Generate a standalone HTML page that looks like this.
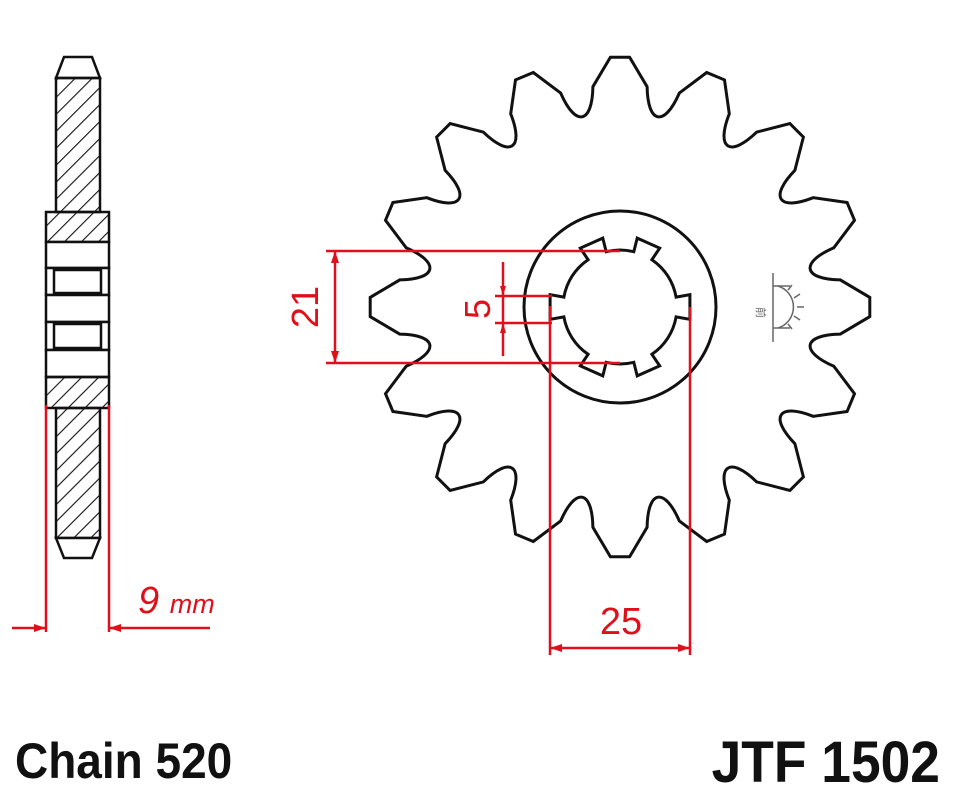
<!DOCTYPE html>
<html><head><meta charset="utf-8"><style>
html,body{margin:0;padding:0;background:#fff;width:958px;height:800px;overflow:hidden}
svg{display:block}
.t{font-family:"Liberation Sans",Arial,sans-serif;font-weight:bold;fill:#111}
.r{font-family:"Liberation Sans",Arial,sans-serif;fill:#e0101a}
</style></head><body>
<svg id="s" width="958" height="800" viewBox="0 0 958 800" xmlns="http://www.w3.org/2000/svg">
<defs>
<pattern id="h" width="12" height="12" patternUnits="userSpaceOnUse" patternTransform="rotate(45)">
<line x1="0" y1="0" x2="0" y2="12" stroke="#111" stroke-width="2.2"/>
</pattern>
</defs>
<g stroke="#111" stroke-width="2.5" fill="none">
<path d="M56 78 L64 57 L92 57 L100 78 Z" fill="#fff"/>
<rect x="56" y="78" width="44" height="134" fill="url(#h)"/>
<rect x="46" y="212" width="63" height="30" fill="url(#h)"/>
<rect x="46" y="242" width="63" height="26" fill="#fff"/>
<rect x="46" y="268" width="63" height="27" fill="#fff"/>
<rect x="54" y="270" width="47" height="23" fill="#fff"/>
<rect x="46" y="295" width="63" height="27" fill="#fff"/>
<rect x="46" y="322" width="63" height="28" fill="#fff"/>
<rect x="54" y="324" width="47" height="24" fill="#fff"/>
<rect x="46" y="350" width="63" height="27" fill="#fff"/>
<rect x="46" y="377" width="63" height="31" fill="url(#h)"/>
<rect x="56" y="408" width="44" height="130" fill="url(#h)"/>
<path d="M56 538 L64 558 L92 558 L100 538 Z" fill="#fff"/>
</g>
<g stroke="#e0101a" stroke-width="2.5" fill="none">
<line x1="46" y1="405" x2="46" y2="632"/>
<line x1="109" y1="405" x2="109" y2="632"/>
<line x1="12" y1="628" x2="46" y2="628"/>
<line x1="109" y1="628" x2="210" y2="628"/>
</g>
<path d="M46 628 l-12 -4 v8 z M109 628 l12 -4 v8 z" fill="#e0101a"/>
<text class="r" x="138" y="613" font-size="38" font-style="italic">9 <tspan font-size="27">mm</tspan></text>

<path id="sp" fill="none" stroke="#111" stroke-width="3"/>
<circle cx="620" cy="307" r="96" fill="none" stroke="#111" stroke-width="3"/>
<path id="sl" fill="none" stroke="#111" stroke-width="3"/>

<g stroke="#666" stroke-width="1.5" fill="none">
<line x1="773" y1="273" x2="773" y2="342"/>
<line x1="773" y1="286" x2="790" y2="286"/>
<line x1="773" y1="328" x2="790" y2="328"/>
<path d="M778 286 A22 22 0 0 1 778 328"/>
<path d="M788 290 l4 -5 M794 298 l6 -4 M797 307 h7 M794 316 l6 4 M788 324 l4 5"/>
<text x="760" y="310" font-size="11" fill="#666" stroke="none" font-family="Liberation Sans,Noto Sans CJK SC,sans-serif" transform="rotate(90 760 307)">前</text>
</g>

<g stroke="#e0101a" stroke-width="2.5" fill="none">
<line x1="326" y1="251" x2="620" y2="251"/>
<line x1="326" y1="363" x2="620" y2="363"/>
<line x1="335" y1="251" x2="335" y2="363"/>
<line x1="495" y1="296" x2="552" y2="296"/>
<line x1="495" y1="323" x2="552" y2="323"/>
<line x1="503" y1="262" x2="503" y2="356"/>
<line x1="550" y1="306" x2="550" y2="655"/>
<line x1="690" y1="307" x2="690" y2="655"/>
<line x1="550" y1="648" x2="690" y2="648"/>
</g>
<path d="M335 251 l-4 12 h8 z M335 363 l-4 -12 h8 z M503 296 l-3 -10 h6 z M503 323 l-3 10 h6 z M550 648 l12 -4 v8 z M690 648 l-12 -4 v8 z" fill="#e0101a"/>
<text class="r" font-size="38" transform="translate(318 307) rotate(-90)" text-anchor="middle">21</text>
<text class="r" font-size="36" transform="translate(490 309) rotate(-90)" text-anchor="middle">5</text>
<text class="r" font-size="38" x="621" y="634" text-anchor="middle">25</text>

<text class="t" x="15" y="778" font-size="50" transform="translate(15 0) scale(0.92 1) translate(-15 0)">Chain 520</text>
<text class="t" x="940" y="782" font-size="58" text-anchor="end" transform="translate(940 0) scale(0.92 1) translate(-940 0)">JTF 1502</text>
</svg>
<script>
(function(){
var cx=620,cy=307,N=16,pa=22.5,d="";
function P(r,a){a=a*Math.PI/180;return (cx+r*Math.cos(a)).toFixed(1)+" "+(cy+r*Math.sin(a)).toFixed(1);}
for(var i=0;i<N;i++){
 var t=-90+pa*i;
 d+=(i==0?"M":"L")+P(222,t-7)+" L"+P(250,t-2.2)+" L"+P(250,t+2.2)+" L"+P(222,t+7)+" C"+P(185,t+8.6)+" "+P(185,t+13.9)+" "+P(222,t+15.5);
}
d+=" Z";
document.getElementById("sp").setAttribute("d",d);
var list=[0,66,114,180,246,294],s="",hw=10;
var r1=57,r2=71;
for(var k=0;k<list.length;k++){
 var a=list[k];
 s+=(k==0?"M":"L")+P(r1,a-hw)+" L"+P(r2,a-hw)+" L"+P(r2,a+hw)+" L"+P(r1,a+hw);
 var nx=list[(k+1)%list.length]; if(k==list.length-1) nx+=360;
 s+=" A"+r1+" "+r1+" 0 0 1 "+P(r1,nx-hw);
}
s+=" Z";
document.getElementById("sl").setAttribute("d",s);
})();
</script>
</body></html>
